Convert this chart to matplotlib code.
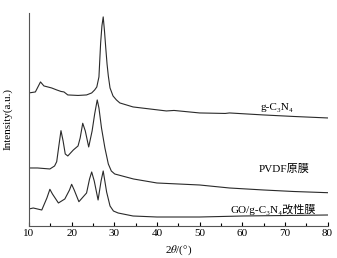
import matplotlib.pyplot as plt

plt.rcParams['font.family'] = ['Liberation Serif', 'Noto Sans CJK SC', 'DejaVu Sans']
plt.rcParams['mathtext.fontset'] = 'stix'

# XRD patterns (offset intensities, arbitrary units)
tt_gcn = [10, 11.5, 12.7, 13.5, 15.3, 16.5, 17.5, 18.2, 19.1, 21.5, 23.5, 24.7,
          25.4, 25.9, 26.4, 26.8, 27.1, 27.4, 27.7, 28.0, 28.3, 28.6, 29.0, 29.7,
          30.5, 31.3, 34.4, 38.3, 42.2, 44, 50, 56, 57, 65, 72, 80]
i_gcn = [133, 134, 144, 140, 138, 136, 134.5, 134, 131, 130.5, 131, 133,
         136, 139, 149, 183, 200, 209, 195, 178, 162, 150, 138, 130,
         126, 123, 119, 117, 115, 115.5, 113, 112.5, 113, 111, 109.5, 108]

tt_pvdf = [10, 12, 14.9, 16, 16.5, 17.0, 17.5, 18.0, 18.5, 19.1, 20.4, 21.5,
           22.0, 22.6, 23.2, 24.0, 24.8, 25.4, 26.0, 26.4, 27, 27.8, 28.6,
           29.3, 30.1, 34.5, 40, 50, 57, 65, 72, 80]
i_pvdf = [58, 58, 57, 60, 64.3, 80, 95.3, 85, 72, 70, 76, 80,
          88, 102.7, 95, 79, 95, 112, 126, 118, 98, 78, 62,
          55, 52, 47, 43, 41, 38, 36, 34.5, 33.3]

tt_go = [10, 11, 13, 14.2, 14.9, 15.5, 16.9, 18.4, 19.5, 20.0, 20.6, 21.7,
         23.5, 24.2, 24.7, 25.3, 26.2, 26.9, 27.4, 28.2, 29.0, 29.8, 30.9, 34.4,
         40, 50, 60, 70, 80]
i_go = [17, 18, 16, 28, 36.7, 32, 23, 27, 36, 41.7, 36, 24.3,
        33, 47, 54, 45, 26, 45, 55, 34, 20, 15, 13, 10,
        9, 9, 10, 10.5, 11]

series_labels = ['g-C\u2083N\u2084', 'PVDF原膜', 'GO/g-C\u2083N\u2084改性膜']
label_pos = [(68.1, 118), (69.7, 57), (67.2, 17)]

fig = plt.figure(figsize=(3.37, 2.58), dpi=100)
ax = fig.add_axes([0.086, 0.124, 0.886, 0.826])

for tt, ii in [(tt_gcn, i_gcn), (tt_pvdf, i_pvdf), (tt_go, i_go)]:
    ax.plot(tt, ii, color='#2a2a2a', lw=0.8)

for lab, (x, y) in zip(series_labels, label_pos):
    ax.text(x, y, lab, ha='center', va='center', fontsize=8)

ax.set_xlim(10, 80)
ax.set_ylim(0, 213)
ax.set_xticks(range(10, 81, 10))
ax.set_xticks(range(15, 80, 10), minor=True)
ax.set_yticks([])
ax.tick_params(axis='x', direction='in', length=3, width=0.8, labelsize=8, pad=2)
ax.tick_params(axis='x', which='minor', direction='in', length=2, width=0.8)
ax.spines['top'].set_visible(False)
ax.spines['right'].set_visible(False)
ax.spines['left'].set_color('#555555')
ax.spines['bottom'].set_color('#555555')
ax.set_xlabel(r'2$\theta$/(°)', fontsize=8, labelpad=4)
ax.set_ylabel('Intensity(a.u.)', fontsize=8, labelpad=12)

fig.savefig('out.png', dpi=100)
